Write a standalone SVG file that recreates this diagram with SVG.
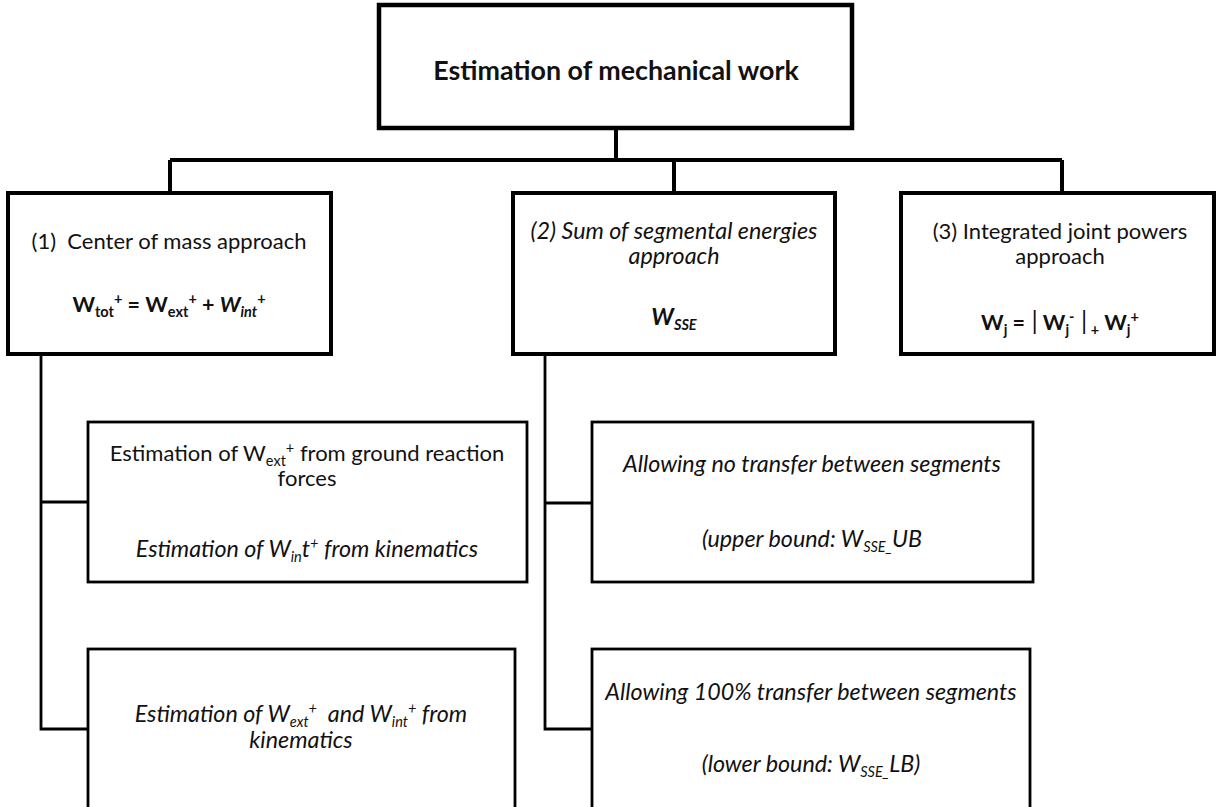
<svg xmlns="http://www.w3.org/2000/svg" width="1218" height="807" viewBox="0 0 1218 807">
<style>
.bx{fill:#fff;stroke:#000;stroke-linejoin:miter}
.b1{stroke-width:4.5}
.b2{stroke-width:4}
.b3{stroke-width:2.8}
.cn{fill:none;stroke:#000;stroke-linejoin:miter}
.t{font-family:Lato,"Open Sans",sans-serif;fill:#111;text-anchor:middle}
.r{font-size:22px}
.i{font-size:23.3px;font-style:italic}
.bd{font-weight:bold}
.sm{font-size:14.5px}
</style>
<rect width="1218" height="807" fill="#fff"/>
<g id="connectors">
<path class="cn" stroke-width="4" d="M616,128V160M170,160H1062M170,160V193M674,160V193M1062,160V193"/>
<path class="cn" stroke-width="2.8" d="M41,354V729H88M41,502H88"/>
<path class="cn" stroke-width="2.8" d="M545,354V729H592M545,503H592"/>
</g>
<g id="root">
<rect class="bx b1" x="379" y="5" width="473" height="123"/>
<text class="t bd" x="616" y="80" font-size="26.8">Estimation of mechanical work</text>
</g>
<g id="com">
<rect class="bx b2" x="8" y="193" width="323" height="161"/>
<text class="t r" x="169" y="249" xml:space="preserve">(1)  Center of mass approach</text>
<text class="t bd" x="169" y="312" font-size="21.5">W<tspan class="sm" dy="5">tot</tspan><tspan class="sm" dy="-13">+</tspan><tspan dy="8"> = W</tspan><tspan class="sm" dy="5">ext</tspan><tspan class="sm" dy="-13">+</tspan><tspan dy="8"> + </tspan><tspan font-style="italic">W</tspan><tspan class="sm" font-style="italic" dy="5">int</tspan><tspan class="sm" dy="-13">+</tspan></text>
</g>
<g id="sse">
<rect class="bx b2" x="513" y="193" width="322" height="161"/>
<text class="t i" x="674" y="239">(2) Sum of segmental energies<tspan x="674" dy="25">approach</tspan></text>
<text class="t i bd" x="674" y="325">W<tspan class="sm" dy="5">SSE</tspan></text>
</g>
<g id="ijp">
<rect class="bx b2" x="901" y="193" width="313" height="161"/>
<text class="t r" x="1060" y="239">(3) Integrated joint powers<tspan x="1060" dy="25">approach</tspan></text>
<text class="t" x="1060" y="330" font-size="21.5" xml:space="preserve"><tspan class="bd">W</tspan><tspan class="sm bd" dy="5">j</tspan><tspan class="bd" dy="-5"> =</tspan><tspan font-size="25" font-weight="normal"> |</tspan><tspan class="bd"> W</tspan><tspan class="sm bd" dy="5">j</tspan><tspan class="sm bd" dy="-13">-</tspan><tspan font-size="25" dy="8"> |</tspan><tspan class="sm bd" dy="5"> +</tspan><tspan class="bd" dy="-5"> W</tspan><tspan class="sm bd" dy="5">j</tspan><tspan class="sm bd" dy="-13">+</tspan></text>
</g>
<g id="grf">
<rect class="bx b3" x="88" y="422" width="439" height="160"/>
<text class="t r" x="307" y="461">Estimation of W<tspan class="sm" dy="5">ext</tspan><tspan class="sm" dy="-13">+</tspan><tspan dy="8"> from ground reaction</tspan><tspan x="307" dy="25">forces</tspan></text>
<text class="t i" x="307" y="557">Estimation of W<tspan class="sm" dy="5">in</tspan><tspan dy="-5">t</tspan><tspan class="sm" dy="-8">+</tspan><tspan dy="8"> from kinematics</tspan></text>
</g>
<g id="kin">
<rect class="bx b3" x="88" y="649" width="427" height="180"/>
<text class="t i" x="301" y="722" xml:space="preserve">Estimation of W<tspan class="sm" dy="5">ext</tspan><tspan class="sm" dy="-13">+</tspan><tspan dy="8">  and W</tspan><tspan class="sm" dy="5">int</tspan><tspan class="sm" dy="-13">+</tspan><tspan dy="8"> from</tspan><tspan x="301" dy="26">kinematics</tspan></text>
</g>
<g id="ub">
<rect class="bx b3" x="592" y="422" width="441" height="160"/>
<text class="t i" x="812" y="472">Allowing no transfer between segments</text>
<text class="t i" x="812" y="547">(upper bound: W<tspan class="sm" dy="5">SSE_</tspan><tspan dy="-5">UB</tspan></text>
</g>
<g id="lb">
<rect class="bx b3" x="592" y="649" width="438" height="180"/>
<text class="t i" x="811" y="700">Allowing 100% transfer between segments</text>
<text class="t i" x="811" y="772">(lower bound: W<tspan class="sm" dy="5">SSE_</tspan><tspan dy="-5">LB)</tspan></text>
</g>
</svg>
